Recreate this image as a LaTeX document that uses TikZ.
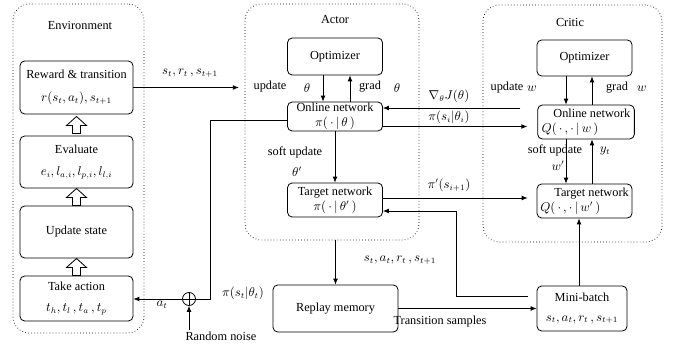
\documentclass[tikz,border=0pt]{standalone}
\usepackage{fontspec}
\setmainfont{Liberation Serif}
\usetikzlibrary{arrows.meta,calc}

\tikzset{
  bloco/.style={draw, rounded corners=4pt, line width=0.7pt, align=center, inner sep=1pt},
  grupo/.style={draw, dotted, rounded corners=14pt, line width=0.6pt},
  rotulo/.style={inner sep=1pt},
  soma/.style={circle, draw, line width=0.7pt, minimum size=0.39cm, inner sep=0pt,
    path picture={\draw (path picture bounding box.north) -- (path picture bounding box.south)
      (path picture bounding box.west) -- (path picture bounding box.east);}}
}

% seta vazada (para cima) centrada numa coordenada
\newcommand{\setaoca}[1]{%
  \draw[line width=0.7pt, fill=white] ($(#1)+(-4,8)$) -- ++(0,-8) -- ++(-6,0)
    -- ++(10,-9) -- ++(10,9) -- ++(-6,0) -- ++(0,8) -- cycle;}

\begin{document}
\begin{tikzpicture}[x=0.03cm, y=-0.03cm, >={Latex[length=5pt,width=4pt]}, line width=0.6pt,
  font=\fontsize{10.5}{12.6}\selectfont]
  \useasboundingbox (0,0) rectangle (677,348);

  % blocos pontilhados
  \node[grupo, minimum width=3.93cm, minimum height=9.87cm] (env) at (78.5,168.5) {};
  \node[grupo, minimum width=5.22cm, minimum height=7.08cm] (actor) at (332,122) {};
  \node[grupo, minimum width=5.37cm, minimum height=7.11cm] (critic) at (572.5,123.5) {};
  \node[rotulo] (envt) at (80,25) {Environment};
  \node[rotulo] (actt) at (335,20) {Actor};
  \node[rotulo] (critt) at (570,22) {Critic};

  % ambiente
  \node[bloco, minimum width=3.39cm, minimum height=1.59cm] (reward) at (76.5,87.5)
    {Reward \& transition\\[7pt] $r(s_t,a_t),s_{t+1}$};
  \node[bloco, minimum width=3.39cm, minimum height=1.56cm] (eval) at (76.5,162)
    {Evaluate\\[6pt] $e_i,l_{a,i},l_{p,i},l_{l,i}$};
  \node[bloco, minimum width=3.39cm, minimum height=1.56cm] (update) at (76.5,232) {Update state};
  \node[bloco, minimum width=3.39cm, minimum height=1.35cm] (take) at (76.5,298.5)
    {Take action\\[5pt] $t_h,t_l\,,t_a\,,t_p$};
  \coordinate (up1) at (76.5,125.5);
  \coordinate (up2) at (76.5,197.5);
  \coordinate (up3) at (76.5,267.5);
  \setaoca{up1}
  \setaoca{up2}
  \setaoca{up3}

  % ator
  \node[bloco, minimum width=2.85cm, minimum height=1.11cm] (aopt) at (335,56.5) {Optimizer};
  \node[bloco, minimum width=2.85cm, minimum height=0.87cm] (aon) at (335,116.5)
    {Online network\\ $\pi(\,\cdot\,|\,\theta\,)$};
  \node[bloco, minimum width=2.85cm, minimum height=1.02cm] (atar) at (335,200)
    {Target network\\ $\pi(\,\cdot\,|\,\theta'\,)$};

  % critico
  \node[bloco, minimum width=2.85cm, minimum height=1.08cm] (copt) at (584.5,58) {Optimizer};
  \node[bloco, align=left, minimum width=2.9cm, minimum height=1.02cm] (con) at (586,122)
    {\hspace*{10pt}Online network\\ $Q(\,\cdot\,,\cdot\,|\,w\,)$};
  \node[bloco, align=left, minimum width=2.85cm, minimum height=1.02cm] (ctar) at (584.5,201)
    {\hspace*{12pt}Target network\\ $Q(\,\cdot\,,\cdot\,|\,w'\,)$};

  % memoria e mini-batch
  \node[bloco, minimum width=3.75cm, minimum height=1.41cm] (replay) at (335.5,308.5) {Replay memory};
  \node[bloco, minimum width=2.7cm, minimum height=1.35cm] (mini) at (582,308.5)
    {Mini-batch\\[4pt] $s_t,a_t,r_t\,,s_{t+1}$};

  % ruido
  \node[soma] (sum) at (189,299) {};
  \node[rotulo, anchor=north west] (noise) at (184,330) {Random noise};

  % ligacoes
  \draw[->, shorten >=5pt] (reward.east) -- (reward.east -| actor.west);
  \node[rotulo] (l1) at (190,73) {$s_t,r_t\,,s_{t+1}$};

  \draw[->] ($(aopt.south)+(-12,0)$) -- ($(aon.north)+(-12,0)$);
  \draw[->] ($(aon.north)+(15,0)$) -- ($(aopt.south)+(15,0)$);
  \draw[->] (aon.south) -- (atar.north);
  \node[rotulo] (l2) at (270,87) {update};
  \node[rotulo] (l3) at (307,88) {$\theta$};
  \node[rotulo] (l4) at (370,87) {grad};
  \node[rotulo] (l5) at (397,88) {$\theta$};
  \node[rotulo] (l6) at (295,152) {soft update};
  \node[rotulo] (l7) at (297,172) {$\theta'$};

  \draw[->] ($(copt.south)+(-18.5,0)$) -- ($(con.north)+(-20,0)$);
  \draw[->] ($(con.north)+(6,0)$) -- ($(copt.south)+(7.5,0)$);
  \draw[->] ($(con.south)+(-20,0)$) -- ($(ctar.north)+(-18.5,0)$);
  \draw[->] ($(ctar.north)+(7.5,0)$) -- ($(con.south)+(6,0)$);
  \node[rotulo] (l8) at (507,88) {update};
  \node[rotulo] (l9) at (532,89) {$w$};
  \node[rotulo] (l10) at (617,88) {grad};
  \node[rotulo] (l11) at (642,89) {$w$};
  \node[rotulo] (l12) at (555,150) {soft update};
  \node[rotulo] (l13) at (558,166) {$w'$};
  \node[rotulo] (l14) at (605,151) {$y_t$};

  \draw[->] ($(con.west)+(-17,-14)$) -- ($(aon.east)+(0,-8.5)$);
  \draw[->] ($(aon.east)+(0,10)$) -- ($(con.west)+(-10,4.5)$);
  \draw[->] ($(atar.east)+(0,-2)$) -- ($(ctar.west)+(-9,-3)$);
  \node[rotulo] (l15) at (449,96) {$\nabla_{\theta}J(\theta)$};
  \node[rotulo, inner sep=0pt] (l16) at (449,117) {$\pi(s_i|\theta_i)$};
  \node[rotulo] (l17) at (449,185) {$\pi'(s_{i+1})$};

  \draw[->] (actor.south -| replay.north) -- (replay.north);
  \node[rotulo] (l18) at (400,260) {$s_t,a_t,r_t\,,s_{t+1}$};
  \draw[->] (replay.east) -- (mini.west);
  \node[rotulo] (l19) at (440,322) {Transition samples};

  \draw[->] ($(mini.west)+(-9,-12.5)$) -- ++(-71,0) |- ($(atar.east)+(0,11)$);
  \draw[->] ($(mini.north)+(-3,0)$) coordinate (mtop) -- (ctar.south -| mtop);

  \draw ($(aon.west)+(0,4)$) -- ++(-77,0) |- (sum.east);
  \draw[->] (sum.west) -- (take.east |- sum.west);
  \node[rotulo] (l20) at (162,305) {$a_t$};
  \node[rotulo] (l21) at (243,293) {$\pi(s_t|\theta_t)$};
  \draw[->] (noise.north -| sum) -- (sum.south);

\end{tikzpicture}
\end{document}
